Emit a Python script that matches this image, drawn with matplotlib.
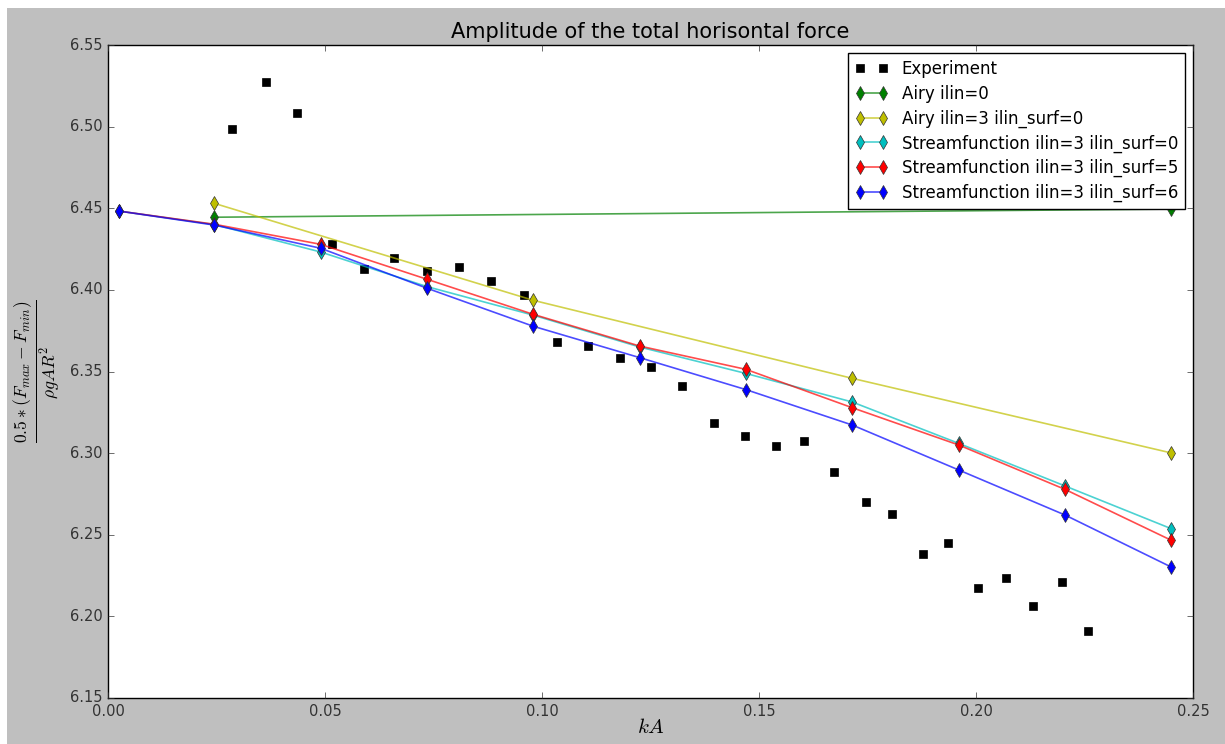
import matplotlib
matplotlib.use('Agg')
import matplotlib.pyplot as plt
from matplotlib.patches import Rectangle

plt.style.use('classic')

# experiment (kA, force)
ka_exp = [0.0286, 0.0364, 0.0435, 0.0516, 0.0590, 0.0659, 0.0735, 0.0809, 0.0882, 0.0959,
          0.1035, 0.1106, 0.1180, 0.1251, 0.1323, 0.1396, 0.1468, 0.1539, 0.1604, 0.1673,
          0.1747, 0.1806, 0.1878, 0.1935, 0.2005, 0.2069, 0.2131, 0.2198, 0.2258]
f_exp = [6.4985, 6.5273, 6.5083, 6.4278, 6.4128, 6.4195, 6.4116, 6.4140, 6.4054, 6.3969,
         6.3681, 6.3656, 6.3583, 6.3528, 6.3411, 6.3185, 6.3105, 6.3044, 6.3074, 6.2884,
         6.2701, 6.2627, 6.2382, 6.2449, 6.2174, 6.2235, 6.2064, 6.2211, 6.1910]

# Airy
ka_airy0 = [0.0245, 0.245]
f_airy0 = [6.4445, 6.4495]

ka_airy3 = [0.0245, 0.098, 0.1715, 0.245]
f_airy3 = [6.4530, 6.3936, 6.3458, 6.3001]

# streamfunction
ka_sf = [0.00245, 0.0245, 0.049, 0.0735, 0.098, 0.1225, 0.147, 0.1715, 0.196, 0.2205, 0.245]
f_sf0 = [6.4483, 6.4400, 6.4232, 6.4020, 6.3845, 6.3650, 6.3488, 6.3313, 6.3060, 6.2799, 6.2537]
f_sf5 = [6.4483, 6.4402, 6.4279, 6.4065, 6.3850, 6.3656, 6.3513, 6.3278, 6.3050, 6.2778, 6.2466]
f_sf6 = [6.4483, 6.4397, 6.4255, 6.4010, 6.3777, 6.3585, 6.3389, 6.3172, 6.2897, 6.2621, 6.2302]

fig = plt.figure(figsize=(12.25, 7.44), dpi=100, facecolor='white')
# grey figure area (the picture has a thin white edge top/left)
fig.patches.append(Rectangle((7/1225, 0), 1, (744-8)/744, transform=fig.transFigure,
                             facecolor='0.75', edgecolor='none', zorder=-10))
ax = fig.add_axes([108/1225, 46/744, 1085/1225, 653/744])

ax.plot(ka_exp, f_exp, 's', color='k', ms=5.5, label='Experiment')

series = [
    (ka_airy0, f_airy0, (0, 0.5, 0), 'Airy ilin=0'),
    (ka_airy3, f_airy3, (0.75, 0.75, 0), 'Airy ilin=3 ilin_surf=0'),
    (ka_sf, f_sf0, (0, 0.75, 0.75), 'Streamfunction ilin=3 ilin_surf=0'),
    (ka_sf, f_sf5, (1, 0, 0), 'Streamfunction ilin=3 ilin_surf=5'),
    (ka_sf, f_sf6, (0, 0, 1), 'Streamfunction ilin=3 ilin_surf=6'),
]
for xs, ys, c, lab in series:
    ax.plot(xs, ys, '-d', color=c + (0.7,), mfc=c, mec=(0.2, 0.2, 0.2), mew=0.5,
            ms=7, lw=1.2, label=lab)

ax.set_xlim(0, 0.25)
ax.set_ylim(6.15, 6.55)
ax.set_xticks([0.0, 0.05, 0.10, 0.15, 0.20, 0.25])
ax.set_xticklabels(['0.00', '0.05', '0.10', '0.15', '0.20', '0.25'])
ax.set_yticks([6.15, 6.20, 6.25, 6.30, 6.35, 6.40, 6.45, 6.50, 6.55])
ax.set_yticklabels(['%.2f' % v for v in ax.get_yticks()])
ax.tick_params(labelsize=10.5, colors='0.2')

ax.set_title('Amplitude of the total horisontal force', fontsize=15)
ax.set_xlabel(r'$kA$', fontsize=15, labelpad=-1)
ax.set_ylabel(r'$\frac{0.5*(F_{max}-F_{min})}{\rho g A R^2}$', fontsize=18)

ax.legend(loc='upper right', numpoints=2, fontsize=12, labelspacing=0.4)

fig.savefig('out.png', dpi=100, facecolor=fig.get_facecolor())
